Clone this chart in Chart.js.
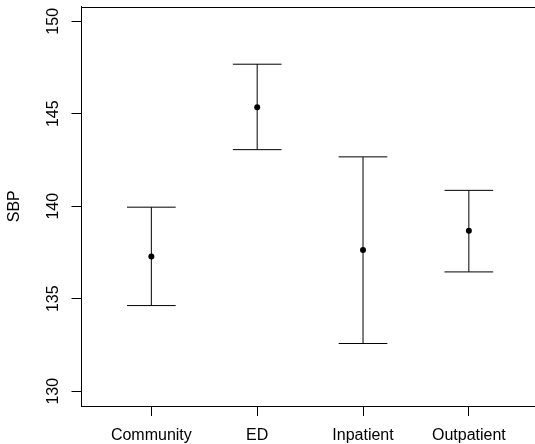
<!DOCTYPE html>
<html>
<head>
<meta charset="utf-8">
<script src="https://cdn.jsdelivr.net/npm/chart.js@4"></script>
<style>
  html, body { margin: 0; padding: 0; background: #fff; overflow: hidden; }
</style>
</head>
<body>
<canvas id="sbp" width="535" height="444"></canvas>
<script>
// gemiddelde SBP per setting met foutbalken
const categories = ['Community', 'ED', 'Inpatient', 'Outpatient'];
const means = [137.28, 145.35, 137.64, 138.67];
const lower = [134.63, 143.06, 132.58, 136.45];
const upper = [139.95, 147.68, 142.67, 140.86];
const yTicks = [130, 135, 140, 145, 150];

const CAP = 0.23; // halve breedte van de kapjes, in x-eenheden

// stelen en kapjes als losse lijnstukjes (null = onderbreking)
const bars = [];
categories.forEach((c, i) => {
  const x = i + 1;
  bars.push({x: x, y: lower[i]}, {x: x, y: upper[i]}, {x: x, y: null});
  bars.push({x: x - CAP, y: upper[i]}, {x: x + CAP, y: upper[i]}, {x: x, y: null});
  bars.push({x: x - CAP, y: lower[i]}, {x: x + CAP, y: lower[i]}, {x: x, y: null});
});

const points = means.map((m, i) => ({x: i + 1, y: m}));

// bovenkant van het kader, zoals bij R
const topBorder = {
  id: 'topBorder',
  afterDraw(chart) {
    const {ctx, chartArea} = chart;
    ctx.save();
    ctx.strokeStyle = '#000';
    ctx.lineWidth = 1;
    ctx.beginPath();
    ctx.moveTo(chartArea.left, Math.round(chartArea.top) + 0.5);
    ctx.lineTo(chartArea.right, Math.round(chartArea.top) + 0.5);
    ctx.stroke();
    ctx.restore();
  }
};

const font = {family: '"Liberation Sans", Arial, Helvetica, sans-serif', size: 16};

const config = {
  type: 'scatter',
  data: {
    datasets: [{
      data: bars,
      showLine: true,
      spanGaps: false,
      borderColor: '#000',
      borderWidth: 1,
      pointRadius: 0,
      pointHoverRadius: 0
    }, {
      data: points,
      showLine: false,
      pointRadius: 3,
      pointHoverRadius: 3,
      pointBackgroundColor: '#000',
      pointBorderColor: '#000',
      pointBorderWidth: 0
    }]
  },
  options: {
    responsive: false,
    animation: false,
    events: [],
    layout: {
      autoPadding: false,
      padding: {top: 6.5, right: 0, bottom: 0, left: 0}
    },
    plugins: {
      legend: {display: false},
      tooltip: {enabled: false}
    },
    scales: {
      x: {
        type: 'linear',
        min: 0.34,
        max: 4.625,
        afterBuildTicks(scale) {
          scale.ticks = categories.map((c, i) => ({value: i + 1}));
        },
        afterFit(scale) {
          scale.height = 38;
          scale.paddingLeft = 0;
          scale.paddingRight = 0;
        },
        ticks: {
          color: '#000',
          font: font,
          padding: 10,
          maxRotation: 0,
          autoSkip: false,
          callback: (v) => categories[v - 1]
        },
        grid: {
          drawOnChartArea: false,
          drawTicks: true,
          tickLength: 10,
          color: '#000'
        },
        border: {display: true, color: '#000', width: 1}
      },
      y: {
        min: 129.2,
        max: 150.8,
        afterBuildTicks(scale) {
          scale.ticks = yTicks.map(v => ({value: v}));
        },
        afterFit(scale) {
          scale.width = 81.5;
          scale.paddingTop = 0;
          scale.paddingBottom = 0;
        },
        ticks: {
          color: '#000',
          font: font,
          padding: 5,
          minRotation: 90,
          maxRotation: 90,
          crossAlign: 'center',
          autoSkip: false
        },
        grid: {
          drawOnChartArea: false,
          drawTicks: true,
          tickLength: 10,
          color: '#000'
        },
        border: {display: true, color: '#000', width: 1},
        title: {
          display: true,
          text: 'SBP',
          color: '#000',
          font: font,
          padding: {top: 5.4, bottom: 0}
        }
      }
    }
  },
  plugins: [topBorder]
};

const myChart = new Chart(document.getElementById('sbp'), config);
</script>
</body>
</html>
